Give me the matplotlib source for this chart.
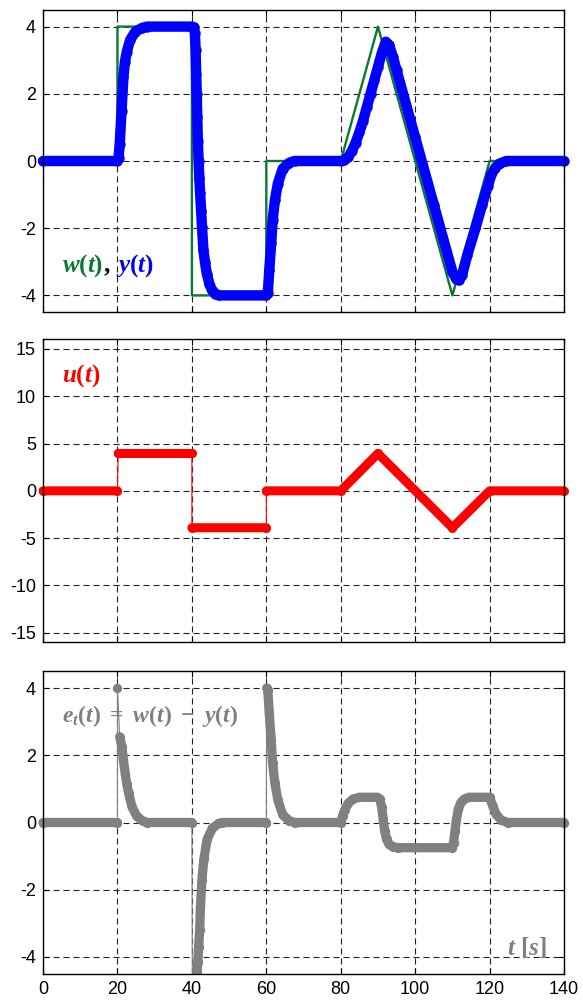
import numpy as np
import matplotlib
matplotlib.use('Agg')
import matplotlib.pyplot as plt
from matplotlib.patches import Rectangle

plt.rcParams['font.family'] = 'Liberation Sans'
plt.rcParams['axes.unicode_minus'] = False
plt.rcParams['mathtext.fontset'] = 'custom'
plt.rcParams['mathtext.rm'] = 'Liberation Serif:bold'
plt.rcParams['mathtext.it'] = 'Liberation Serif:italic:bold'
plt.rcParams['mathtext.bf'] = 'Liberation Serif:bold'

GREEN = '#0b7a2e'
BLUE = '#0000ff'
RED = '#ff0000'
GRAY = '#808080'

# reference w(t)
t_w = [0, 20, 20, 40, 40, 60, 60, 80, 90, 110, 120, 140]
w = [0, 0, 4, 4, -4, -4, 0, 0, 4, -4, 0, 0]

# output y(t)
y_points = [(0, 0), (20, 0), (20.3, 0.1), (20.6, 0.5), (21.1, 1.5), (21.6, 2.5),
            (22.0, 2.95), (22.5, 3.25), (23.4, 3.6), (24.8, 3.85), (26.6, 3.96),
            (28, 4.0), (40, 4.0), (40.5, 3.98), (40.8, 3.8), (41.0, 3.3),
            (41.15, 2.6), (41.3, 2.0), (41.45, 1.3), (41.6, 0.6), (41.8, 0.0),
            (42.0, -0.5), (42.2, -0.95), (42.5, -1.5), (42.7, -1.95), (43.1, -2.65),
            (43.5, -3.0), (44.0, -3.35), (44.7, -3.65), (45.4, -3.85), (46.3, -3.95),
            (47.2, -4.0), (60, -4.0), (60.4, -3.93), (60.8, -3.24), (61.3, -2.45),
            (61.7, -1.76), (62.3, -1.17), (63.1, -0.67), (64.4, -0.23), (66.2, -0.05),
            (67.6, 0), (80, 0), (81, 0.03), (82, 0.12), (83, 0.3), (84, 0.55),
            (85, 0.85), (86, 1.2), (87, 1.6), (88, 2.0), (89, 2.4), (90, 2.8),
            (91, 3.2), (92.1, 3.55), (93, 3.45), (94, 3.1), (95, 2.7), (100, 0.7),
            (105, -1.3), (110, -3.3), (111, -3.5), (111.8, -3.55), (112.6, -3.4),
            (114, -2.8), (116.2, -2.0), (118, -1.3), (119.5, -0.75), (120.5, -0.4),
            (121.5, -0.2), (122.6, -0.08), (124.5, 0), (140, 0)]

# control u(t); None = jump, only the thin trace joins across it
u_points = [(0, 0), (20, 0), None, (20.2, 3.95), (40, 3.95), None, (40, -3.9),
            (60, -3.9), None, (60, 0), (80, 0), (90, 3.95), (110, -3.9),
            (120, 0), (140, 0)]

# tracking error e_t(t)
e_points = [(0, 0), (20, 0), None, (20, 4.0), None, (20.6, 2.55), (21.2, 2.25),
            (21.6, 1.85), (22.1, 1.45), (22.5, 1.15), (23, 0.87), (23.9, 0.47),
            (25.2, 0.18), (27, 0.03), (28, 0), (40, 0), None, (40.2, -8), None,
            (41.4, -4.45), (41.6, -4.15), (41.8, -3.7), (42.1, -3.2), (42.3, -2.5),
            (42.7, -1.7), (43.2, -1.1), (44.1, -0.5), (45.5, -0.17), (47.3, -0.02),
            (48.2, 0), (60, 0), None, (60.1, 4.0), (60.4, 3.93), (60.8, 3.24),
            (61.3, 2.45), (61.7, 1.76), (62.3, 1.17), (63.1, 0.67), (64.4, 0.23),
            (66.2, 0.05), (67.6, 0), (80, 0), (80.5, 0.2), (81.1, 0.38), (82, 0.57),
            (83.3, 0.7), (85, 0.75), (89.8, 0.75), (90.5, 0.7), (91, 0.45),
            (91.4, 0.1), (91.8, -0.25), (92.3, -0.5), (93, -0.65), (94, -0.72),
            (95.5, -0.75), (109.8, -0.75), (110.3, -0.6), (110.7, -0.25),
            (111.1, 0.1), (111.6, 0.4), (112.3, 0.6), (113.2, 0.7), (114.5, 0.75),
            (120, 0.75), (120.8, 0.5), (121.7, 0.25), (123.1, 0.07), (124.9, 0),
            (140, 0)]

x_ticks = [0, 20, 40, 60, 80, 100, 120, 140]
y_ticks_small = [-4, -2, 0, 2, 4]
y_ticks_u = [-15, -10, -5, 0, 5, 10, 15]


def dotted_trace(ax, points, color, lw, clip=None):
    thin_t = [p[0] for p in points if p is not None]
    thin_v = [p[1] for p in points if p is not None]
    thick_t = [np.nan if p is None else p[0] for p in points]
    thick_v = [np.nan if p is None else p[1] for p in points]
    ax.plot(thin_t, thin_v, color=color, lw=0.8)
    ln, = ax.plot(thick_t, thick_v, color=color, lw=lw, marker='o', ms=lw,
                  mew=0, solid_capstyle='round', solid_joinstyle='round')
    if clip == 'off':
        ln.set_clip_on(False)
    elif clip == 'wide':
        r = Rectangle((-0.02, 0), 1.04, 1, transform=ax.transAxes)
        ln.set_clip_path(r)


def style(ax, ylim, yticks, xlabels):
    ax.set_xlim(0, 140)
    ax.set_ylim(ylim)
    ax.set_xticks(x_ticks)
    ax.set_yticks(yticks)
    if not xlabels:
        ax.set_xticklabels([])
    ax.grid(True, color='#222222', lw=0.8, ls=(0, (5.5, 3.5)))
    ax.set_axisbelow(True)
    ax.tick_params(direction='in', top=True, right=True, length=4, width=0.8,
                   labelsize=13, pad=5)
    for s in ax.spines.values():
        s.set_linewidth(1.0)


def label(ax, x, y, pieces, size=17):
    r = fig.canvas.get_renderer()
    for s, c, gap in pieces:
        txt = ax.text(x, y, s, color=c, fontsize=size, transform=ax.transAxes,
                      ha='left', va='baseline')
        bb = txt.get_window_extent(r)
        x = ax.transAxes.inverted().transform((bb.x1 + gap, bb.y0))[0]


fig = plt.figure(figsize=(5.83, 10), dpi=100)
ax1 = fig.add_axes([0.0738, 0.6878, 0.8937, 0.3024])
ax2 = fig.add_axes([0.0738, 0.3578, 0.8937, 0.3027])
ax3 = fig.add_axes([0.0738, 0.0263, 0.8937, 0.3024])

# top: w(t), y(t)
style(ax1, (-4.5, 4.5), y_ticks_small, False)
ax1.plot(t_w, w, color=GREEN, lw=1.7)
dotted_trace(ax1, y_points, BLUE, 7.5, clip='off')
label(ax1, 0.0365, 0.133, [(r'$w(t)$', GREEN, 0), (r'$,$', 'k', 5),
                           (r'$y(t)$', BLUE, 0)], size=18)

# middle: u(t)
style(ax2, (-16, 16), y_ticks_u, False)
dotted_trace(ax2, u_points, RED, 6.5, clip='off')
label(ax2, 0.0365, 0.86, [(r'$u(t)$', RED, 0)], size=18)

# bottom: e_t(t)
style(ax3, (-4.5, 4.5), y_ticks_small, True)
dotted_trace(ax3, e_points, GRAY, 6.7, clip='wide')
label(ax3, 0.0365, 0.832, [(r'$e_t(t)\ =\ w(t)\ -\ y(t)$', GRAY, 0)])
ax3.text(0.967, 0.062, r'$t\ [s]$', color=GRAY, fontsize=18,
         transform=ax3.transAxes, ha='right', va='baseline')

fig.savefig('out.png', dpi=100)
